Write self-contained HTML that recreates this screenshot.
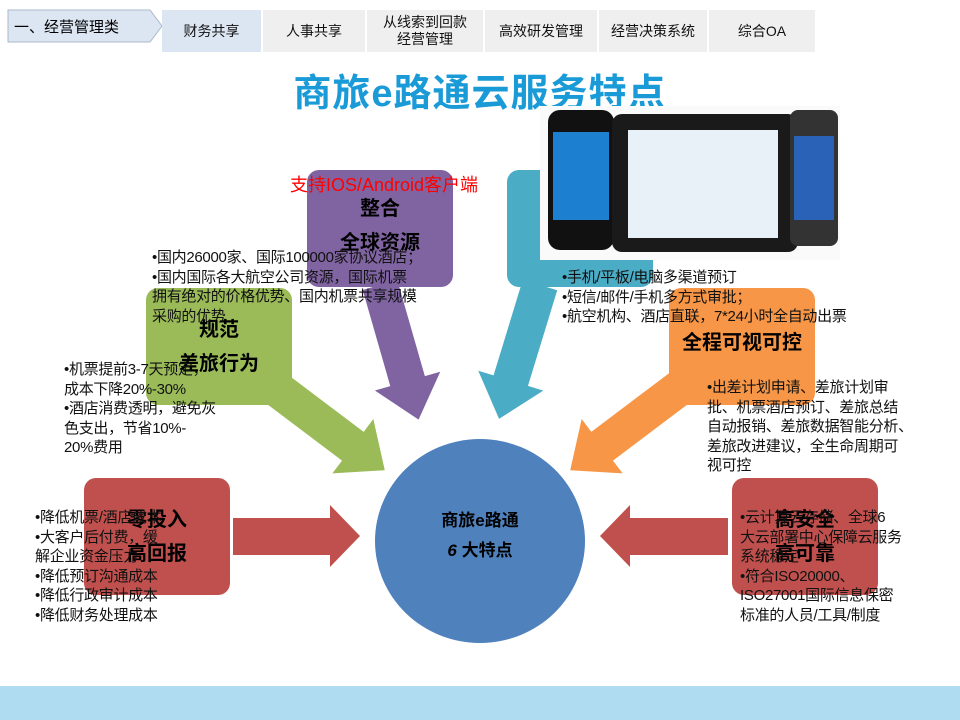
<!DOCTYPE html>
<html><head><meta charset="utf-8"><style>
body{margin:0;width:960px;height:720px;overflow:hidden;background:#fff;font-family:"Liberation Sans","Noto Sans CJK SC",sans-serif;position:relative}
.a{position:absolute}
.tab{position:absolute;top:10px;height:42px;background:#efefef;display:flex;align-items:center;justify-content:center;text-align:center;font-size:14px;color:#111;line-height:17px}
.box{position:absolute;border-radius:12px;display:flex;flex-direction:column;align-items:center;justify-content:center;font-weight:bold;font-size:20px;color:#000;line-height:34px;text-align:center}
.t{position:absolute;font-size:15px;line-height:19.5px;color:#111;white-space:nowrap;letter-spacing:-0.3px}
</style></head><body>
<div class="a" style="left:0;top:686px;width:960px;height:34px;background:#b0dcf2"></div>
<svg class="a" style="left:0;top:0" width="960" height="720">
<polygon points="8,10 150,10 162,26 150,42 8,42" fill="#dce6f2" stroke="#aab8c8"/>
<g transform="translate(265,380) rotate(37)"><polygon points="0,-18 110,-18 110,-34 150,0 110,34 110,18 0,18" fill="#9bbb59"/></g>
<g transform="translate(380,285) rotate(74)"><polygon points="0,-18 100,-18 100,-34 140,0 100,34 100,18 0,18" fill="#8064a2"/></g>
<g transform="translate(540,285) rotate(107)"><polygon points="0,-18 100,-18 100,-34 140,0 100,34 100,18 0,18" fill="#4bacc6"/></g>
<g transform="translate(690,380) rotate(143)"><polygon points="0,-18 110,-18 110,-34 150,0 110,34 110,18 0,18" fill="#f79646"/></g>
<polygon points="233,518 330,518 330,505 360,536 330,567 330,555 233,555" fill="#c0504d"/>
<polygon points="728,518 630,518 630,505 600,536 630,567 630,555 728,555" fill="#c0504d"/>
<ellipse cx="480" cy="541" rx="105" ry="102" fill="#4f81bd"/>
</svg>
<div class="a" style="left:14px;top:16px;font-size:15px">一、经营管理类</div>
<div class="tab" style="left:162px;width:99px;background:#dce6f2">财务共享</div>
<div class="tab" style="left:263px;width:102px">人事共享</div>
<div class="tab" style="left:367px;width:116px">从线索到回款<br>经营管理</div>
<div class="tab" style="left:485px;width:112px">高效研发管理</div>
<div class="tab" style="left:599px;width:108px">经营决策系统</div>
<div class="tab" style="left:709px;width:106px">综合OA</div>
<div class="a" style="left:0;width:960px;top:62px;text-align:center;font-size:38px;font-weight:bold;color:#1a9bd7;letter-spacing:1px">商旅e路通云服务特点</div>
<div class="box" style="left:307px;top:170px;width:146px;height:117px;background:#8064a2;justify-content:flex-start;padding-top:22px;box-sizing:border-box">整合<br>全球资源</div>
<div class="box" style="left:507px;top:170px;width:146px;height:117px;background:#4bacc6"></div>
<div class="box" style="left:146px;top:288px;width:146px;height:117px;background:#9bbb59">规范<br>差旅行为</div>
<div class="box" style="left:669px;top:288px;width:146px;height:117px;background:#f79646;justify-content:flex-start;padding-top:38px;box-sizing:border-box">全程可视可控</div>
<div class="box" style="left:84px;top:478px;width:146px;height:117px;background:#c0504d">零投入<br>高回报</div>
<div class="box" style="left:732px;top:478px;width:146px;height:117px;background:#c0504d">高安全<br>高可靠</div>
<div class="a" style="left:375px;top:506px;width:210px;text-align:center;font-weight:bold;font-size:17px;line-height:30px">商旅e路通<br><i>6</i> 大特点</div>
<div class="a" style="left:540px;top:106px;width:300px;height:154px;background:#fafafa">
 <div class="a" style="left:8px;top:4px;width:66px;height:140px;background:#111;border-radius:12px"><div class="a" style="left:5px;top:22px;width:56px;height:88px;background:#1c7fd0"></div></div>
 <div class="a" style="left:72px;top:8px;width:186px;height:138px;background:#1a1a1a;border-radius:10px"><div class="a" style="left:16px;top:16px;width:150px;height:108px;background:#e8f0f8"></div></div>
 <div class="a" style="left:250px;top:4px;width:48px;height:136px;background:#333;border-radius:8px"><div class="a" style="left:4px;top:26px;width:40px;height:84px;background:#2a62b8"></div></div>
</div>
<div class="a" style="left:290px;top:171px;font-size:18px;color:#f00">支持IOS/Android客户端</div>
<div class="t" style="left:152px;top:248px">•国内26000家、国际100000家协议酒店；<br>•国内国际各大航空公司资源，国际机票<br>拥有绝对的价格优势、国内机票共享规模<br>采购的优势</div>
<div class="t" style="left:562px;top:268px">•手机/平板/电脑多渠道预订<br>•短信/邮件/手机多方式审批；<br>•航空机构、酒店直联，7*24小时全自动出票</div>
<div class="t" style="left:64px;top:360px">•机票提前3-7天预定，<br>成本下降20%-30%<br>•酒店消费透明，避免灰<br>色支出，节省10%-<br>20%费用</div>
<div class="t" style="left:707px;top:378px">•出差计划申请、差旅计划审<br>批、机票酒店预订、差旅总结<br>自动报销、差旅数据智能分析、<br>差旅改进建议，全生命周期可<br>视可控</div>
<div class="t" style="left:35px;top:508px">•降低机票/酒店成本<br>•大客户后付费，缓<br>解企业资金压力<br>•降低预订沟通成本<br>•降低行政审计成本<br>•降低财务处理成本</div>
<div class="t" style="left:740px;top:508px">•云计算云存储、全球6<br>大云部署中心保障云服务<br>系统稳定<br>•符合ISO20000、<br>ISO27001国际信息保密<br>标准的人员/工具/制度</div>
</body></html>
